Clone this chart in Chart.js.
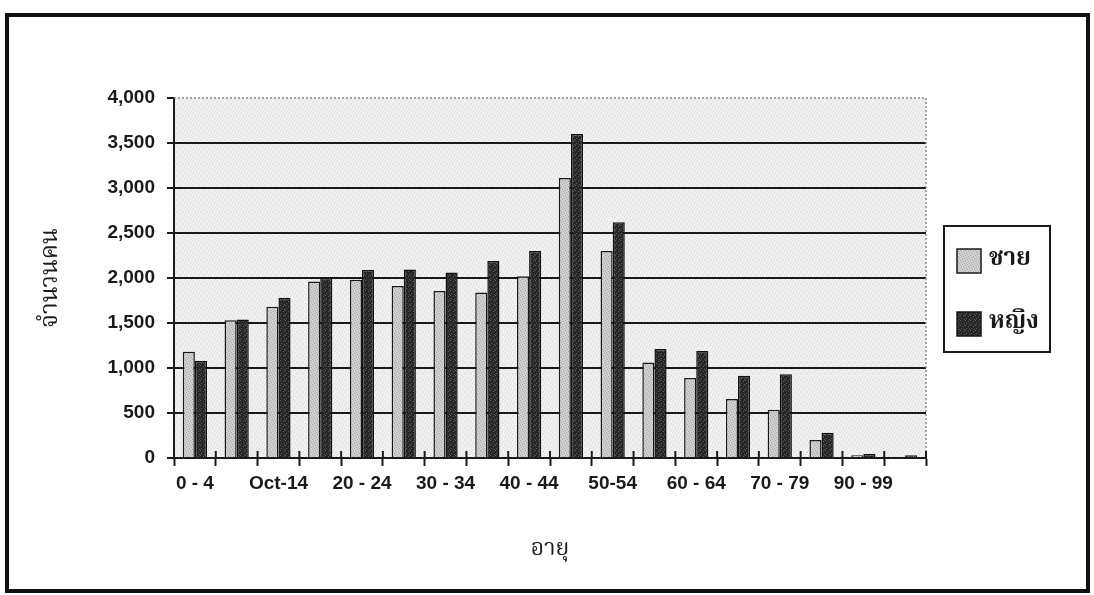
<!DOCTYPE html>
<html>
<head>
<meta charset="utf-8">
<script src="https://cdn.jsdelivr.net/npm/chart.js@4/dist/chart.umd.min.js"></script>
<style>
  html, body { margin: 0; padding: 0; background: #ffffff; }
  #wrap { width: 1094px; height: 595px; position: relative; }
</style>
</head>
<body>
<div id="wrap"><canvas id="c" width="1094" height="595"></canvas></div>
<script>
// Age groups and population counts by sex
const ageGroups = ['0 - 4', '5 - 9', 'Oct-14', '15 - 19', '20 - 24', '25 - 29', '30 - 34', '35 - 39',
  '40 - 44', '45-49', '50-54', '55-59', '60 - 64', '65 - 69', '70 - 79', '80 - 89', '90 - 99', '100+'];
const maleCounts = [1180, 1530, 1680, 1960, 1980, 1910, 1855, 1840, 2020, 3110, 2300, 1060, 890, 655, 535, 200, 30, 15];
const femaleCounts = [1080, 1540, 1780, 2000, 2090, 2095, 2060, 2190, 2300, 3600, 2620, 1210, 1190, 915, 930, 280, 45, 30];
const yTickValues = [0, 500, 1000, 1500, 2000, 2500, 3000, 3500, 4000];
const seriesNames = ['ชาย', 'หญิง'];
const axisTitles = { x: 'อายุ', y: 'จำนวนคน' };

const THAI = '"Noto Serif Thai", "Noto Sans Thai", "TH Sarabun New", Garuda, Loma, Kinnari, "DejaVu Sans", sans-serif';
const LATIN = '"Liberation Sans", Arial, sans-serif';

// Stippled fills built from small tiles
function stipple(base, dot, step, offsets) {
  const t = document.createElement('canvas');
  t.width = step; t.height = step;
  const g = t.getContext('2d');
  g.fillStyle = base; g.fillRect(0, 0, step, step);
  g.fillStyle = dot;
  offsets.forEach(([x, y]) => g.fillRect(x, y, 1, 1));
  return document.getElementById('c').getContext('2d').createPattern(t, 'repeat');
}
const plotFill = stipple('#f1f1f1', '#d9d9d9', 6, [[0, 0], [3, 1], [5, 3], [1, 4], [4, 5], [2, 2]]);
const maleFill = stipple('#d0d0d0', '#a6a6a6', 5, [[0, 0], [3, 1], [1, 2], [4, 3], [2, 4]]);
const femaleFill = stipple('#262626', '#5e5e5e', 5, [[0, 0], [3, 1], [1, 3], [4, 4]]);

const framePlugin = {
  id: 'frame',
  beforeDraw(chart) {
    const { ctx, chartArea: a } = chart;
    ctx.save();
    ctx.fillStyle = plotFill;
    ctx.fillRect(a.left, a.top, a.right - a.left, a.bottom - a.top);
    ctx.restore();
  },
  afterDraw(chart) {
    const { ctx, chartArea: a } = chart;
    const xs = chart.scales.x;
    ctx.save();
    // dotted plot-area border on top and right
    ctx.strokeStyle = '#8a8a8a';
    ctx.lineWidth = 1.5;
    ctx.setLineDash([2, 2]);
    ctx.beginPath();
    ctx.moveTo(a.left, a.top); ctx.lineTo(a.right, a.top); ctx.lineTo(a.right, a.bottom);
    ctx.stroke();
    ctx.setLineDash([]);
    // category tick marks also reach slightly into the plot
    ctx.strokeStyle = '#1a1a1a';
    ctx.lineWidth = 2;
    const n = chart.data.labels.length;
    for (let i = 0; i <= n; i++) {
      const x = i === 0 ? a.left : (i === n ? a.right : (xs.getPixelForValue(i - 1) + xs.getPixelForValue(i)) / 2);
      ctx.beginPath(); ctx.moveTo(x, a.bottom - 7); ctx.lineTo(x, a.bottom); ctx.stroke();
    }
    // legend box
    ctx.lineWidth = 2;
    ctx.strokeRect(944, 226, 106, 126);
    chart.data.datasets.forEach((ds, i) => {
      const y = 249 + i * 63;
      ctx.fillStyle = ds.backgroundColor;
      ctx.fillRect(957, y, 24, 24);
      ctx.lineWidth = 1.5;
      ctx.strokeStyle = '#1a1a1a';
      ctx.strokeRect(957, y, 24, 24);
      ctx.fillStyle = '#1a1a1a';
      ctx.font = 'bold 24px ' + THAI;
      ctx.textBaseline = 'middle';
      ctx.textAlign = 'left';
      ctx.fillText(ds.label, 989, y + 12);
    });
    // outer frame
    ctx.lineWidth = 4;
    ctx.strokeStyle = '#111';
    ctx.strokeRect(7, 15, 1081, 576);
    ctx.restore();
  }
};

new Chart(document.getElementById('c'), {
  type: 'bar',
  data: {
    labels: ageGroups,
    datasets: [
      { label: seriesNames[0], data: maleCounts, backgroundColor: maleFill, borderColor: '#1a1a1a', borderWidth: 1.5 },
      { label: seriesNames[1], data: femaleCounts, backgroundColor: femaleFill, borderColor: '#111', borderWidth: 1.5 }
    ]
  },
  options: {
    responsive: false,
    animation: false,
    layout: { padding: { left: 0, right: 168, top: 98, bottom: 0 } },
    datasets: { bar: { categoryPercentage: 0.58, barPercentage: 1.0 } },
    plugins: { legend: { display: false }, tooltip: { enabled: false } },
    scales: {
      x: {
        afterFit(s) { s.height = 137; },
        grid: { offset: true, drawOnChartArea: false, tickLength: 8, tickWidth: 2, tickColor: '#1a1a1a' },
        border: { color: '#1a1a1a', width: 2 },
        ticks: {
          autoSkip: false, maxRotation: 0, padding: 6, color: '#1a1a1a',
          font: { family: LATIN, size: 19, weight: 'bold' },
          callback(v, i) { return i % 2 === 0 ? ageGroups[i] : ''; }
        },
        title: { display: true, text: axisTitles.x, color: '#1a1a1a', font: { family: THAI, size: 23 }, padding: { top: 0, bottom: 30 } }
      },
      y: {
        min: 0, max: 4000,
        afterFit(s) { s.width = 174; },
        afterBuildTicks(s) { s.ticks = yTickValues.map(v => ({ value: v })); },
        grid: {
          color: c => (c.tick && c.tick.value === 4000) ? 'rgba(0,0,0,0)' : '#1a1a1a',
          lineWidth: 2, tickLength: 7, tickWidth: 2, tickColor: '#1a1a1a'
        },
        border: { color: '#1a1a1a', width: 2 },
        ticks: {
          padding: 12, color: '#1a1a1a',
          font: { family: LATIN, size: 19, weight: 'bold' },
          callback(v) { return v.toLocaleString('en-US'); }
        },
        title: { display: true, text: axisTitles.y, color: '#1a1a1a', font: { family: THAI, size: 24 }, padding: { top: 39, bottom: 0 } }
      }
    }
  },
  plugins: [framePlugin]
});
</script>
</body>
</html>
